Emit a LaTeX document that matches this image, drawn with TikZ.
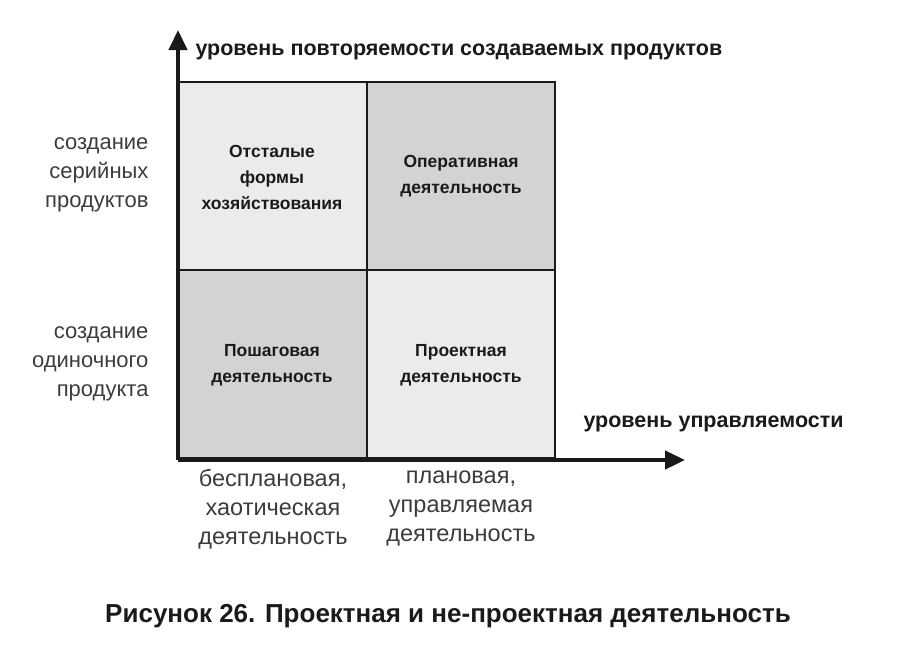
\documentclass[tikz,border=0pt]{standalone}
\usepackage{fontspec}
\setmainfont{Liberation Sans}
\usetikzlibrary{arrows.meta}
\definecolor{cl}{HTML}{EBEBEB}
\definecolor{cd}{HTML}{D3D3D3}
\definecolor{ln}{HTML}{1A1A1A}
\begin{document}
\begin{tikzpicture}[x=1pt,y=-1pt,
  cell/.style={draw=ln,line width=2.5pt},
  ct/.style={font=\bfseries\fontsize{17.5}{26}\selectfont,align=center,text=ln},
  st/.style={font=\fontsize{22}{29}\selectfont,align=center,text=ln!85},
  bt/.style={font=\fontsize{23.5}{29}\selectfont,align=center,text=ln!85},
  ax/.style={line width=4.5pt,draw=ln,-{Triangle[length=20pt,width=18pt]}},
  axt/.style={font=\bfseries\fontsize{21.5}{24}\selectfont,text=ln,anchor=west}]
\useasboundingbox (0,0) rectangle (912,664);
\fill[cl] (178,82) rectangle (367,270);
\fill[cd] (367,82) rectangle (555,270);
\fill[cd] (178,270) rectangle (367,458);
\fill[cl] (367,270) rectangle (555,458);
\draw[cell] (178,82) rectangle (555,458);
\draw[cell] (367,82) -- (367,458);
\draw[cell] (178,270) -- (555,270);
\coordinate (o) at (178,460);
\coordinate (yt) at (178,30);
\coordinate (xt) at (685,460);
\draw[ax] (o) -- (yt);
\draw[ax] (o) -- (xt);
\node[axt] (ya) at (192,52) {уровень повторяемости создаваемых продуктов};
\node[axt] (xa) at (580,424) {уровень управляемости};
\node[ct] (c1) at (272,177) {Отсталые\\формы\\хозяйствования};
\node[ct] (c2) at (461,176) {Оперативная\\деятельность};
\node[ct] (c3) at (272,365) {Пошаговая\\деятельность};
\node[ct] (c4) at (461,365) {Проектная\\деятельность};
\node[st,align=right,anchor=east] (s1) at (152,175) {создание\\серийных\\продуктов};
\node[st,align=right,anchor=east] (s2) at (152,364) {создание\\одиночного\\продукта};
\node[bt] (b1) at (273,509) {бесплановая,\\хаотическая\\деятельность};
\node[bt] (b2) at (461,509) {плановая,\\управляемая\\деятельность};
\node[font=\bfseries\fontsize{26}{30}\selectfont,text=ln] (cap) at (448,616) {Рисунок 26. Проектная и не-проектная деятельность};
\end{tikzpicture}
\end{document}
